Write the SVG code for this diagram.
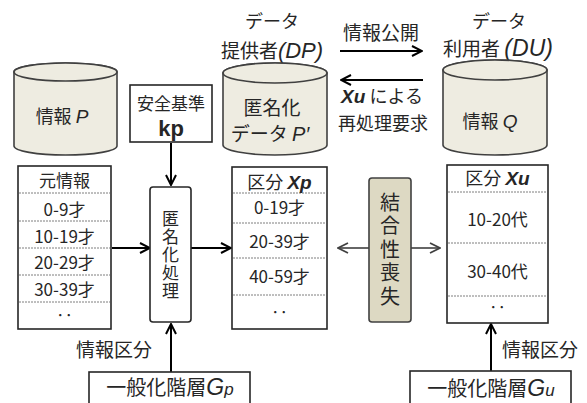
<svg xmlns="http://www.w3.org/2000/svg" width="587" height="403" viewBox="0 0 587 403">
<defs>
<style>
text{font-family:"Noto Sans CJK JP","Liberation Sans",sans-serif;fill:#262626;}
.t17{font-size:17px;}
.t18{font-size:18px;}
.t19{font-size:19px;}
.it{font-style:italic;font-family:"Liberation Sans","Noto Sans CJK JP",sans-serif;}
.bi{font-style:italic;font-weight:bold;font-family:"Liberation Sans","Noto Sans CJK JP",sans-serif;}
.vt{writing-mode:vertical-rl;text-orientation:upright;}
.cyl{fill:#eeece1;stroke:#404040;stroke-width:1.6;}
.box{fill:#fff;stroke:#262626;stroke-width:1.6;}
.sep{stroke:#7f7f7f;stroke-width:1;stroke-dasharray:2 1;}
.arr{stroke:#000;stroke-width:2;fill:none;marker-end:url(#ah);}
.garr{stroke:#404040;stroke-width:1.6;fill:none;marker-end:url(#gh);}
</style>
<marker id="ah" viewBox="0 0 12 12" refX="11" refY="6" markerWidth="12" markerHeight="12" markerUnits="userSpaceOnUse" orient="auto">
<path d="M1,1 L11,6 L1,11" fill="none" stroke="#000" stroke-width="2"/>
</marker>
<marker id="gh" viewBox="0 0 12 12" refX="11" refY="6" markerWidth="12" markerHeight="12" markerUnits="userSpaceOnUse" orient="auto">
<path d="M1,1 L11,6 L1,11" fill="none" stroke="#404040" stroke-width="1.8"/>
</marker>
</defs>
<rect width="587" height="403" fill="#fff"/>

<g id="connectors">
<path class="arr" d="M171,143 V185"/>
<path class="arr" d="M112,248 H150"/>
<path class="arr" d="M191,248 H231"/>
<path class="arr" d="M171,372 V324"/>
<path class="arr" d="M491,371 V324"/>
<path class="arr" d="M340,51 H422"/>
<path class="arr" d="M423,80 H341"/>
<path class="garr" d="M369,248 H338"/>
<path class="garr" d="M411,248 H440"/>
</g>

<g id="labels">
<text class="t18" x="272" y="28" text-anchor="middle">データ</text>
<text class="t19" x="272" y="58" text-anchor="middle">提供者<tspan class="it" font-size="22">(DP)</tspan></text>
<text class="t19" x="381" y="40" text-anchor="middle">情報公開</text>
<text class="t18" x="499" y="28" text-anchor="middle">データ</text>
<text class="t19" x="498" y="56" text-anchor="middle">利用者 <tspan class="it" font-size="23">(DU)</tspan></text>
<text class="t18" x="382" y="103" text-anchor="middle"><tspan class="bi" font-size="19">Xu</tspan> による</text>
<text class="t18" x="383" y="130" text-anchor="middle">再処理要求</text>
<text class="t19" x="114" y="357" text-anchor="middle">情報区分</text>
<text class="t19" x="540" y="357" text-anchor="middle">情報区分</text>
</g>

<g id="infoP">
<path class="cyl" d="M14,72 A51.5,9 0 0 1 117,72 V146 A51.5,9 0 0 1 14,146 Z"/>
<ellipse class="cyl" cx="65.5" cy="72" rx="51.5" ry="9"/>
<text class="t18" x="62" y="123" text-anchor="middle">情報 <tspan class="it" font-size="19">P</tspan></text>
</g>

<g id="anonP">
<path class="cyl" d="M223,73 A52,10 0 0 1 327,73 V145 A52,10 0 0 1 223,145 Z"/>
<ellipse class="cyl" cx="275" cy="73" rx="52" ry="10"/>
<text class="t19" text-anchor="middle"><tspan x="272" y="115">匿名化</tspan><tspan x="270" y="141">データ <tspan class="it" font-size="20">P′</tspan></tspan></text>
</g>

<g id="infoQ">
<path class="cyl" d="M443,70 A52,10 0 0 1 547,70 V145 A52,10 0 0 1 443,145 Z"/>
<ellipse class="cyl" cx="495" cy="70" rx="52" ry="10"/>
<text class="t18" x="490" y="128" text-anchor="middle">情報 <tspan class="it" font-size="19">Q</tspan></text>
</g>

<g id="safety">
<rect class="box" x="130" y="85" width="82" height="57"/>
<text class="t17" text-anchor="middle"><tspan x="171" y="110">安全基準</tspan><tspan x="171" y="136" font-size="22" font-weight="bold" font-family="Liberation Sans,sans-serif">kp</tspan></text>
</g>

<g id="origTable">
<rect class="box" x="18" y="166" width="93" height="163"/>
<line class="sep" x1="19" y1="193" x2="110" y2="193"/>
<line class="sep" x1="19" y1="221" x2="110" y2="221"/>
<line class="sep" x1="19" y1="248" x2="110" y2="248"/>
<line class="sep" x1="19" y1="275" x2="110" y2="275"/>
<line class="sep" x1="19" y1="302" x2="110" y2="302"/>
<text class="t17" x="64.5" y="187" text-anchor="middle">元情報</text>
<text class="t17" x="64.5" y="216" text-anchor="middle">0-9才</text>
<text class="t17" x="64.5" y="243" text-anchor="middle">10-19才</text>
<text class="t17" x="64.5" y="269" text-anchor="middle">20-29才</text>
<text class="t17" x="64.5" y="296" text-anchor="middle">30-39才</text>
<text class="t17" x="64.5" y="322" text-anchor="middle">‥</text>
</g>

<g id="anonProc">
<rect class="box" x="150" y="187" width="41" height="135" rx="3"/>
<text class="vt" font-size="17" letter-spacing="1" x="170.5" y="255" text-anchor="middle">匿名化処理</text>
</g>

<g id="xpTable">
<rect class="box" x="232" y="167" width="95" height="162"/>
<line class="sep" x1="233" y1="193" x2="326" y2="193"/>
<line class="sep" x1="233" y1="223" x2="326" y2="223"/>
<line class="sep" x1="233" y1="258" x2="326" y2="258"/>
<line class="sep" x1="233" y1="295" x2="326" y2="295"/>
<text class="t18" x="279.5" y="189" text-anchor="middle">区分 <tspan class="bi" font-size="19">Xp</tspan></text>
<text class="t17" x="279.5" y="214" text-anchor="middle">0-19才</text>
<text class="t17" x="279.5" y="248" text-anchor="middle">20-39才</text>
<text class="t17" x="279.5" y="283" text-anchor="middle">40-59才</text>
<text class="t17" x="279.5" y="319" text-anchor="middle">‥</text>
</g>

<g id="lossBox">
<rect x="369" y="178" width="42" height="144" rx="3" fill="#ddd9c3" stroke="#404040" stroke-width="1.6"/>
<text class="vt" font-size="20" letter-spacing="3.5" x="390" y="251" text-anchor="middle">結合性喪失</text>
</g>

<g id="xuTable">
<rect class="box" x="447" y="165" width="101" height="158"/>
<line class="sep" x1="448" y1="192" x2="547" y2="192"/>
<line class="sep" x1="448" y1="243" x2="547" y2="243"/>
<line class="sep" x1="448" y1="296" x2="547" y2="296"/>
<text class="t18" x="497.5" y="185" text-anchor="middle">区分 <tspan class="bi" font-size="19">Xu</tspan></text>
<text class="t17" x="497.5" y="226" text-anchor="middle">10-20代</text>
<text class="t17" x="497.5" y="278" text-anchor="middle">30-40代</text>
<text class="t17" x="497.5" y="314" text-anchor="middle">‥</text>
</g>

<g id="gp">
<rect class="box" x="89" y="372" width="161" height="40"/>
<text font-size="20" x="170" y="395" text-anchor="middle">一般化階層<tspan class="it" font-size="23">G</tspan><tspan class="it" font-size="17">p</tspan></text>
</g>

<g id="gu">
<rect class="box" x="410" y="371" width="161" height="40"/>
<text font-size="20" x="491" y="396" text-anchor="middle">一般化階層<tspan class="it" font-size="23">G</tspan><tspan class="it" font-size="17">u</tspan></text>
</g>
</svg>
